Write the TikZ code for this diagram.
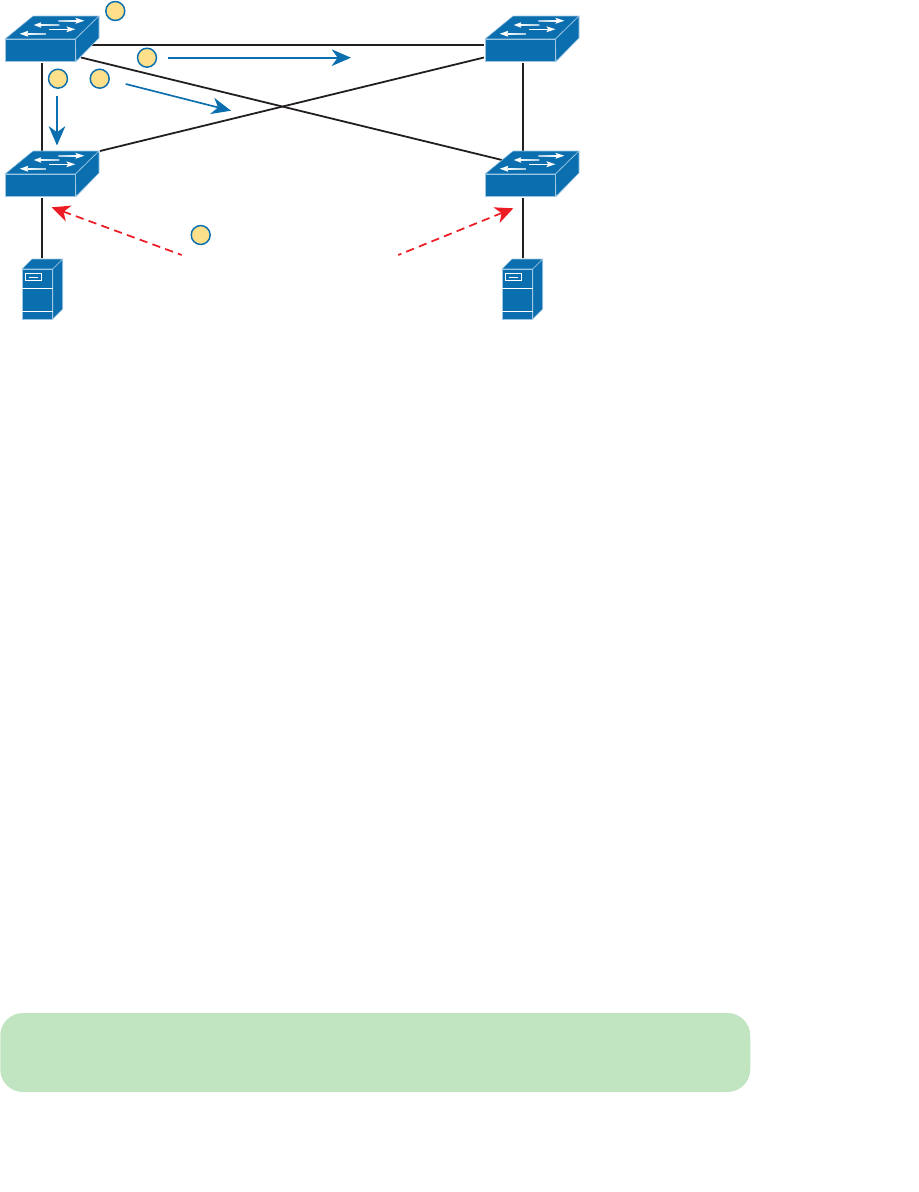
\documentclass[tikz,border=0pt]{standalone}
\usetikzlibrary{arrows.meta}
\definecolor{netblue}{HTML}{0B6FAF}
\definecolor{edgeblue}{HTML}{9CC7E4}
\definecolor{tailblue}{HTML}{A9CBE3}
\definecolor{netred}{HTML}{ED1C24}
\definecolor{netink}{HTML}{231F20}
\definecolor{badge}{HTML}{FEE08B}
\definecolor{panel}{HTML}{C1E5C1}
\tikzset{
  x=.75pt, y=-.75pt,
  frontbox/.style={inner sep=0pt, outer sep=0pt, minimum width=52.875pt, minimum height=16.875pt},
  srvbox/.style={inner sep=0pt, outer sep=0pt, minimum width=23pt, minimum height=37.5pt},
  link/.style={draw=netink, line width=1.35pt},
  flow/.style={draw=netblue, line width=1.25pt, -{Stealth[length=14.5pt,width=12.5pt,inset=4.5pt,fill=netblue]}},
  probe/.style={draw=netred, line width=1.3pt, dash pattern=on 6.2pt off 4pt, {Stealth[length=13.5pt,width=12.5pt,inset=4pt,fill=netred]}-},
  badgenode/.style={circle, draw=netblue, fill=badge, line width=1.1pt, minimum size=14.2pt, inner sep=0pt},
  iconface/.style={fill=netblue, draw=edgeblue, line width=.45pt, line join=round},
  whitehead/.style={fill=white, draw=none},
  pics/switchicon/.style={code={
    \path[iconface] (-35.25,-11.25) -- (-7.25,-34.25) -- (58.75,-34.25) -- (35.25,-11.25) -- cycle;
    \path[iconface] (35.25,-11.25) -- (58.75,-34.25) -- (58.75,-12.25) -- (35.75,11.25) -- cycle;
    \path[fill=netblue, draw=edgeblue, line width=.45pt] (-35.25,-11.25) rectangle (35.25,11.25);
    % arrows on the top face
    \shade[left color=white, right color=tailblue] (-2,-25.9) rectangle (19,-24.6);
    \path[whitehead] (-6.5,-25.25) -- (1,-28) -- (0,-25.25) -- (1,-22.5) -- cycle;
    \shade[left color=tailblue, right color=white] (18,-30.1) rectangle (37,-28.9);
    \path[whitehead] (44,-29.5) -- (35,-32.5) -- (37,-29.5) -- (35,-26.5) -- cycle;
    \path[fill=white] (9,-21.6) rectangle (28,-20.4);
    \path[whitehead] (35,-21) -- (26,-24) -- (28,-21) -- (26,-18) -- cycle;
    \shade[left color=white, right color=tailblue] (-13,-17.1) rectangle (5.5,-15.9);
    \path[whitehead] (-20.5,-16.5) -- (-12,-19.5) -- (-13,-16.5) -- (-12,-13.5) -- cycle;
  }},
  pics/servericon/.style={code={
    \path[iconface] (-15.35,-25) -- (-5.35,-35) -- (25.35,-35) -- (15.35,-25) -- cycle;
    \path[iconface] (15.35,-25) -- (25.35,-35) -- (25.35,15) -- (15.35,25) -- cycle;
    \path[fill=netblue, draw=edgeblue, line width=.45pt] (-15.35,-25) rectangle (15.35,25);
    \draw[white, line width=.6pt] (-12,-20.3) rectangle (4.4,-13.7);
    \draw[white, line width=.6pt] (-8,-17) -- (0.7,-17);
    \draw[white, line width=.6pt] (-15.35,-6) -- (15.35,-6);
    \draw[white, line width=.6pt] (-15.35,17.3) -- (15.35,17.3);
  }}
}
\begin{document}
\begin{tikzpicture}
\path[use as bounding box] (0,0) rectangle (918,1192);

% anchor nodes
\node[frontbox] (swa) at (40.25,50.25) {};
\node[frontbox] (swb) at (520.25,50.25) {};
\node[frontbox] (swc) at (40.25,185.25) {};
\node[frontbox] (swd) at (520.25,185.25) {};
\node[srvbox] (srva) at (37.35,294) {};
\node[srvbox] (srvb) at (517.35,294) {};

% links
\path[link] ([shift={(35,-5.25)}]swa.center) -- ([shift={(-36,-5.25)}]swb.center);
\path[link] ([shift={(40.75,7.25)}]swa.center) -- ([shift={(-18.25,-25.25)}]swd.center);
\path[link] ([shift={(59.75,-34.25)}]swc.center) -- ([shift={(-36.25,7.25)}]swb.center);
\path[link] ([shift={(1.75,12.75)}]swa.center) -- ([shift={(1.75,-34.5)}]swc.center);
\path[link] ([shift={(2.75,12.75)}]swb.center) -- ([shift={(2.75,-34.5)}]swd.center);
\path[link] ([shift={(1.75,12.75)}]swc.center) -- ([shift={(4.65,-36)}]srva.center);
\path[link] ([shift={(2.75,12.75)}]swd.center) -- ([shift={(5.65,-36)}]srvb.center);

% icons
\pic at (swa) {switchicon};
\pic at (swb) {switchicon};
\pic at (swc) {switchicon};
\pic at (swd) {switchicon};
\pic at (srva) {servericon};
\pic at (srvb) {servericon};

% badges
\node[badgenode] (n1) at (115.3,11) {};
\node[badgenode] (n2) at (147,57.7) {};
\node[badgenode] (n3) at (58,78.7) {};
\node[badgenode] (n4) at (99.7,78.7) {};
\node[badgenode] (n5) at (200.7,235) {};

% flows
\coordinate (f1s) at (168,57.7);
\coordinate (f1e) at (351,57.7);
\coordinate (f2s) at (125.7,84);
\coordinate (f2e) at (231,110.7);
\coordinate (f3s) at (57,96);
\coordinate (f3e) at (57,145.5);
\path[flow] (f1s) -- (f1e);
\path[flow] (f2s) -- (f2e);
\path[flow] (f3s) -- (f3e);

% dashed arrows
\coordinate (p1s) at (181.7,255);
\coordinate (p1e) at (51.7,207.3);
\coordinate (p2s) at (398.3,255);
\coordinate (p2e) at (513.3,208.3);
\path[probe] (p1e) -- (p1s);
\path[probe] (p2e) -- (p2s);

% panel
\node[fill=panel, rounded corners=17pt, inner sep=0pt, outer sep=0pt, minimum width=562.5pt, minimum height=59.25pt] (note) at (375.25,1052.5) {};
\end{tikzpicture}
\end{document}
